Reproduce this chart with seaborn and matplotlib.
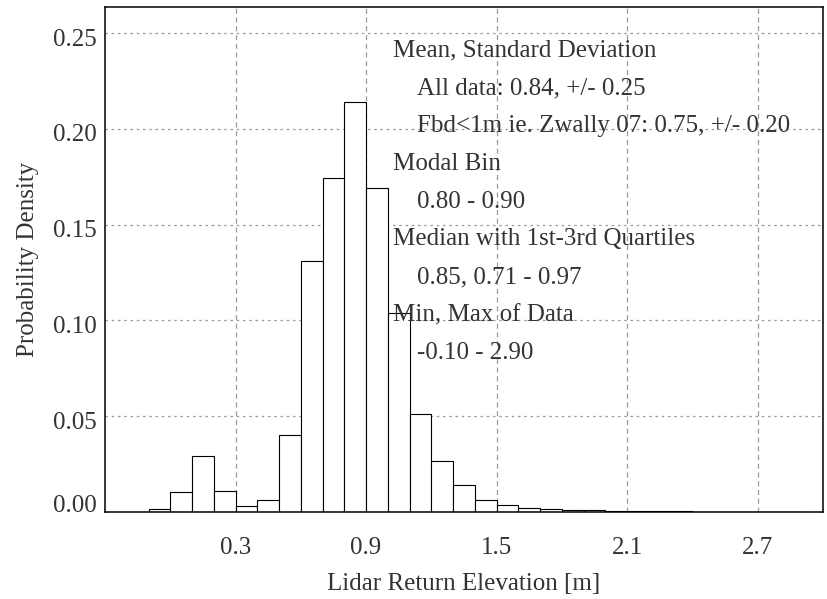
import numpy as np
import pandas as pd
import matplotlib
matplotlib.use("Agg")
import matplotlib.pyplot as plt
import matplotlib.transforms as mtransforms
import seaborn as sns

# Bin edges (m) and per-bin probability
bin_edges = [-0.1, 0.0, 0.1, 0.2, 0.3, 0.4, 0.5, 0.6, 0.7, 0.8, 0.9, 1.0,
             1.1, 1.2, 1.3, 1.4, 1.5, 1.6, 1.7, 1.8, 1.9, 2.0, 2.1, 2.2,
             2.3, 2.4, 2.5, 2.6, 2.7, 2.8, 2.9]
bin_probs = [0.0015, 0.0105, 0.0289, 0.0110, 0.0028, 0.0059, 0.0400, 0.1312,
             0.1743, 0.2143, 0.1689, 0.1036, 0.0511, 0.0266, 0.0139, 0.0062,
             0.0035, 0.0021, 0.0016, 0.0007, 0.0010, 0.0004, 0.0003, 0.0002,
             0.0002, 0.0001, 0.0001, 0.0001, 0.0001, 0.0001]
x_ticks = [0.3, 0.9, 1.5, 2.1, 2.7]
y_ticks = [0.00, 0.05, 0.10, 0.15, 0.20, 0.25]

stats_lines = [
    ("Mean, Standard Deviation", False),
    ("All data: 0.84, +/- 0.25", True),
    ("Fbd<1m ie. Zwally 07: 0.75, +/- 0.20", True),
    ("Modal Bin", False),
    ("0.80 - 0.90", True),
    ("Median with 1st-3rd Quartiles", False),
    ("0.85, 0.71 - 0.97", True),
    ("Min, Max of Data", False),
    ("-0.10 - 2.90", True),
]

edges = np.array(bin_edges)
centers = (edges[:-1] + edges[1:]) / 2
df = pd.DataFrame({"elev": centers, "prob": bin_probs})

sns.set_style("white")
plt.rcParams["font.family"] = ["Liberation Serif", "DejaVu Serif"]
txt_color = "#333333"

fig = plt.figure(figsize=(8.27, 5.99), dpi=100)
ax = fig.add_axes([0.127, 0.1457, 0.868, 0.8423])

sns.histplot(data=df, x="elev", weights="prob", bins=list(bin_edges),
             stat="count", color="white", edgecolor="black", linewidth=0.8,
             alpha=1.0, ax=ax)

ax.set_xlim(-0.3, 3.0)
ax.set_ylim(0.0, 0.2636)
ax.set_xticks(x_ticks)
ax.set_xticklabels([f"{v:.1f}" for v in x_ticks])
ax.set_yticks(y_ticks)
ax.set_yticklabels([f"{v:.2f}" for v in y_ticks])
ax.set_axisbelow(True)
ax.xaxis.grid(True, linestyle=(0, (4, 3)), color="#9a9a9a", linewidth=0.9)
ax.yaxis.grid(True, linestyle=(0, (2, 3)), color="#9a9a9a", linewidth=0.9)

ax.tick_params(axis="both", length=0, labelsize=18, labelcolor=txt_color)
ax.tick_params(axis="x", pad=18)
ax.tick_params(axis="y", pad=6)
for s in ax.spines.values():
    s.set_color("black")
    s.set_linewidth(1.1)

# y tick labels: slightly below their gridlines; the 0.00 label sits on the axis
ylabels = ax.get_yticklabels()
shift = mtransforms.ScaledTranslation(0, -4 / 100, fig.dpi_scale_trans)
for i, lbl in enumerate(ylabels):
    if i == 0:
        lbl.set_verticalalignment("baseline")
    else:
        lbl.set_transform(lbl.get_transform() + shift)

ax.set_xlabel("Lidar Return Elevation [m]", fontsize=18, color=txt_color,
              labelpad=10)
ax.set_ylabel("Probability Density", fontsize=18, color=txt_color,
              labelpad=10)

y0 = 0.2409
dy = 0.01973
for i, (line, indent) in enumerate(stats_lines):
    ax.text(1.132 if indent else 1.025, y0 - i * dy, line, fontsize=18,
            color=txt_color, va="center", ha="left")

fig.savefig("out.png", dpi=100)
